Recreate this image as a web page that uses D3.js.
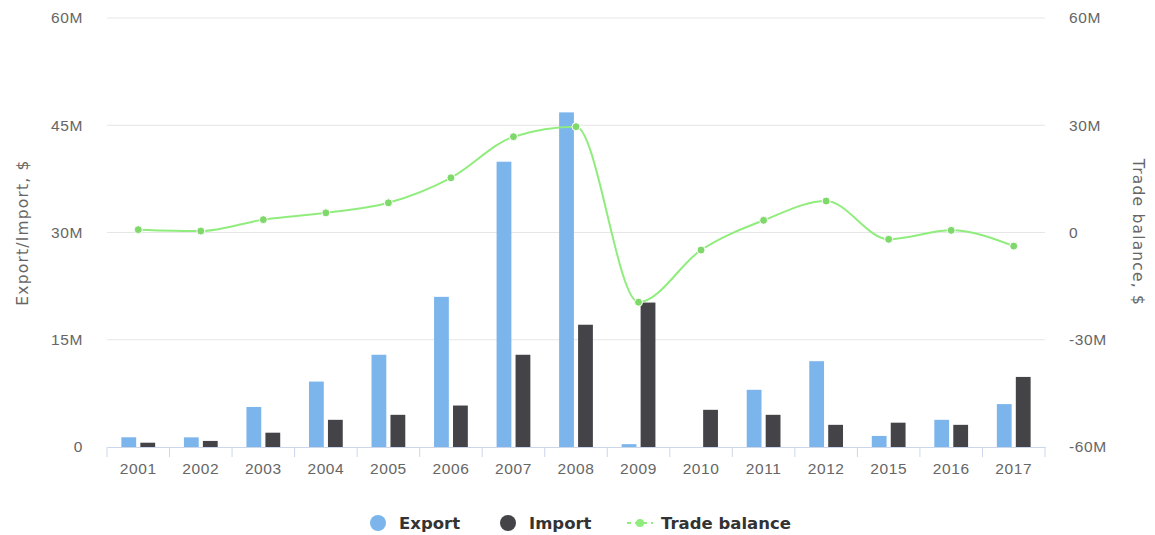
<!DOCTYPE html>
<html>
<head>
<meta charset="utf-8">
<script src="https://cdn.jsdelivr.net/npm/d3@7"></script>
<style>
  html, body { margin: 0; padding: 0; background: #fff; }
  svg { display: block; font-family: "DejaVu Sans", sans-serif; }
</style>
</head>
<body>
<svg id="chart" width="1155" height="535"></svg>
<script>
// Trade figures by year (US dollars)
const years = ["2001","2002","2003","2004","2005","2006","2007","2008","2009","2010","2011","2012","2015","2016","2017"];
const exportVals = [1.36e6, 1.35e6, 5.6e6, 9.15e6, 12.9e6, 21.0e6, 39.9e6, 46.8e6, 0.4e6, 0, 8.0e6, 12.0e6, 1.55e6, 3.8e6, 6.0e6];
const importVals = [0.6e6, 0.85e6, 2.0e6, 3.8e6, 4.5e6, 5.8e6, 12.9e6, 17.1e6, 20.2e6, 5.2e6, 4.5e6, 3.1e6, 3.4e6, 3.1e6, 9.8e6];
const balanceVals = [0.8e6, 0.4e6, 3.6e6, 5.5e6, 8.3e6, 15.3e6, 26.8e6, 29.6e6, -19.5e6, -4.9e6, 3.4e6, 8.8e6, -1.9e6, 0.6e6, -3.8e6];

const leftTicks = [0, 15e6, 30e6, 45e6, 60e6];
const rightTicks = [-60e6, -30e6, 0, 30e6, 60e6];
const seriesNames = ["Export", "Import", "Trade balance"];

const colors = { export: "#7cb5ec", import: "#434348", balance: "#90ed7d" };

const svg = d3.select("#chart");
const plot = { left: 107, right: 1045, top: 18, bottom: 447 };

const x = d3.scaleBand().domain(years).range([plot.left, plot.right]).padding(0);
const groupPad = 0.23;
const inner = d3.scaleBand()
  .domain(["export", "import"])
  .range([x.step() * groupPad, x.step() * (1 - groupPad)])
  .paddingInner(0.22);

const yL = d3.scaleLinear().domain([0, 60e6]).range([plot.bottom, plot.top]);
const yR = d3.scaleLinear().domain([-60e6, 60e6]).range([plot.bottom, plot.top]);

const fmtM = v => v === 0 ? "0" : (v < 0 ? "-" : "") + Math.abs(v / 1e6) + "M";

// Horizontal grid lines
svg.append("g")
  .selectAll("line")
  .data(leftTicks.filter(v => v !== 0))
  .join("line")
  .attr("x1", plot.left).attr("x2", plot.right)
  .attr("y1", d => yL(d)).attr("y2", d => yL(d))
  .attr("stroke", "#e6e6e6").attr("stroke-width", 1);

const labelStyle = sel => sel
  .attr("fill", "#666").style("font-size", "15.5px").style("letter-spacing", "0.6px");

// Left axis labels
const leftAxis = svg.append("g")
  .attr("transform", `translate(${plot.left - 24},0)`)
  .call(d3.axisLeft(yL).tickValues(leftTicks).tickFormat(fmtM).tickSize(0).tickPadding(0));
leftAxis.select(".domain").remove();
leftAxis.selectAll("text").call(labelStyle);

// Right axis labels
const rightAxis = svg.append("g")
  .attr("transform", `translate(${plot.right + 24},0)`)
  .call(d3.axisRight(yR).tickValues(rightTicks).tickFormat(fmtM).tickSize(0).tickPadding(0));
rightAxis.select(".domain").remove();
rightAxis.selectAll("text").call(labelStyle);

// Axis titles
svg.append("text")
  .attr("transform", `translate(28,${(plot.top + plot.bottom) / 2}) rotate(-90)`)
  .attr("text-anchor", "middle")
  .attr("fill", "#666").style("font-size", "15.5px").style("letter-spacing", "1.2px")
  .text("Export/Import, $");
svg.append("text")
  .attr("transform", `translate(1133,${(plot.top + plot.bottom) / 2}) rotate(90)`)
  .attr("text-anchor", "middle")
  .attr("fill", "#666").style("font-size", "15.5px").style("letter-spacing", "1.2px")
  .text("Trade balance, $");

// Bars
const groups = svg.append("g")
  .selectAll("g")
  .data(years)
  .join("g")
  .attr("transform", d => `translate(${x(d)},0)`);

groups.append("rect")
  .attr("x", inner("export"))
  .attr("width", inner.bandwidth())
  .attr("y", (d, i) => yL(exportVals[i]))
  .attr("height", (d, i) => plot.bottom - yL(exportVals[i]))
  .attr("fill", colors.export);

groups.append("rect")
  .attr("x", inner("import"))
  .attr("width", inner.bandwidth())
  .attr("y", (d, i) => yL(importVals[i]))
  .attr("height", (d, i) => plot.bottom - yL(importVals[i]))
  .attr("fill", colors.import);

// Category axis
const xAxis = svg.append("g")
  .attr("transform", `translate(0,${plot.bottom})`)
  .call(d3.axisBottom(x).tickSize(0).tickPadding(16));
xAxis.select(".domain").attr("stroke", "#ccd6eb");
xAxis.selectAll("text").call(labelStyle);

// Tick marks sit between categories
svg.append("g")
  .selectAll("line")
  .data(years.concat(["__end"]))
  .join("line")
  .attr("x1", (d, i) => plot.left + i * x.step())
  .attr("x2", (d, i) => plot.left + i * x.step())
  .attr("y1", plot.bottom).attr("y2", plot.bottom + 10)
  .attr("stroke", "#ccd6eb");

// Trade balance line
const pts = years.map((d, i) => [x(d) + x.bandwidth() / 2, yR(balanceVals[i])]);
svg.append("path")
  .attr("d", d3.line().curve(d3.curveMonotoneX)(pts))
  .attr("fill", "none")
  .attr("stroke", colors.balance)
  .attr("stroke-width", 2);

svg.append("g")
  .selectAll("circle")
  .data(pts)
  .join("circle")
  .attr("cx", d => d[0]).attr("cy", d => d[1])
  .attr("r", 4)
  .attr("fill", "#7fd86a")
  .attr("stroke", "#fff").attr("stroke-width", 1);

// Legend
const legend = svg.append("g").attr("transform", "translate(0,523)");
const legendItems = [
  { name: seriesNames[0], x: 378, type: "dot", color: colors.export },
  { name: seriesNames[1], x: 508, type: "dot", color: colors.import },
  { name: seriesNames[2], x: 640, type: "line", color: colors.balance }
];
legendItems.forEach(it => {
  const g = legend.append("g");
  if (it.type === "dot") {
    g.append("circle").attr("cx", it.x).attr("cy", 0).attr("r", 8).attr("fill", it.color);
  } else {
    g.append("line").attr("x1", it.x - 13).attr("x2", it.x + 13).attr("y1", 0).attr("y2", 0)
      .attr("stroke", it.color).attr("stroke-width", 2).attr("stroke-dasharray", "4,4");
    g.append("circle").attr("cx", it.x).attr("cy", 0).attr("r", 4).attr("fill", it.color);
  }
  g.append("text")
    .attr("x", it.x + 21).attr("y", 0).attr("dy", "0.35em")
    .attr("fill", "#333").style("font-size", "16.5px").style("font-weight", "bold")
    .text(it.name);
});
</script>
</body>
</html>
